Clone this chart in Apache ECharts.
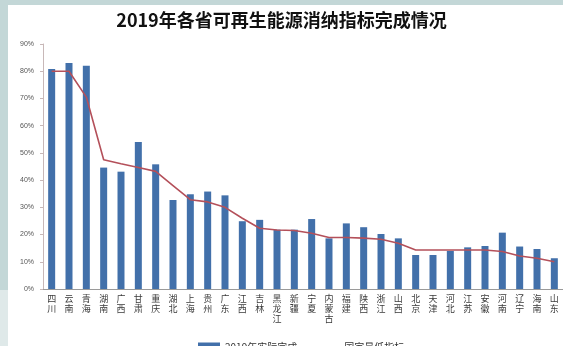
<!DOCTYPE html>
<html>
<head>
<meta charset="utf-8">
<script src="https://cdn.jsdelivr.net/npm/echarts@6/dist/echarts.min.js"></script>
<style>
  html, body { margin: 0; padding: 0; }
  body { width: 563px; height: 346px; background: #c3d7d7; position: relative; overflow: hidden; }
  #strip { position: absolute; left: 0; top: 290px; width: 8px; height: 56px; background: #dfe9e9; }
  #panel { position: absolute; left: 8px; top: 5px; width: 555px; height: 341px; background: #ffffff; }
  #chart { position: absolute; left: 0; top: 0; width: 563px; height: 346px; }
</style>
</head>
<body>
<div id="strip"></div>
<div id="panel"></div>
<div id="chart"></div>
<script>
// Provinces, ordered by the national minimum requirement
const provinces = ['四川', '云南', '青海', '湖南', '广西', '甘肃', '重庆', '湖北', '上海', '贵州',
  '广东', '江西', '吉林', '黑龙江', '新疆', '宁夏', '内蒙古', '福建', '陕西', '浙江',
  '山西', '北京', '天津', '河北', '江苏', '安徽', '河南', '辽宁', '海南', '山东'];

// 2019 actual renewable consumption share (%)
const actual2019 = [80.8, 83.0, 82.0, 44.6, 43.1, 54.0, 45.8, 32.7, 34.8, 35.8,
  34.4, 24.9, 25.4, 21.8, 21.8, 25.7, 18.6, 24.1, 22.7, 20.2,
  18.6, 12.5, 12.5, 14.0, 15.3, 15.8, 20.7, 15.6, 14.7, 11.3];

// National target (%)
const nationalTarget = [80.0, 80.0, 70.5, 47.5, 46.0, 44.6, 43.2, 38.0, 32.8, 32.0,
  30.0, 26.0, 22.3, 21.7, 21.5, 20.5, 18.9, 18.9, 18.7, 18.3,
  16.8, 14.3, 14.3, 14.3, 14.3, 14.3, 13.8, 12.1, 11.3, 10.0];

// Y axis ticks
const yMin = 0, yMax = 90, yStep = 10;

const chart = echarts.init(document.getElementById('chart'), null, { renderer: 'canvas' });

chart.setOption({
  backgroundColor: 'transparent',
  animation: false,
  title: {
    text: '2019年各省可再生能源消纳指标完成情况',
    left: 'center',
    top: 6,
    textStyle: {
      fontFamily: '"Noto Sans CJK SC", sans-serif',
      fontSize: 18,
      fontWeight: 'bold',
      color: '#111111'
    }
  },
  legend: {
    top: 337,
    left: 193,
    itemGap: 20,
    itemWidth: 22,
    itemHeight: 9,
    textStyle: { fontFamily: '"Noto Sans CJK SC", sans-serif', fontSize: 10, color: '#333' },
    data: [
      { name: '2019年实际完成', icon: 'rect' },
      { name: '国家最低指标', icon: 'path://M0,0 L22,0 L22,1.6 L0,1.6 Z' }
    ]
  },
  grid: { left: 43, right: -3, top: 44, bottom: 57, containLabel: false },
  xAxis: {
    type: 'category',
    data: provinces,
    axisLine: { lineStyle: { color: '#9a9a9a', width: 1 } },
    axisTick: { show: false },
    axisLabel: {
      interval: 0,
      margin: 5,
      fontFamily: '"Noto Sans CJK SC", sans-serif',
      fontSize: 9,
      lineHeight: 10,
      color: '#3a3a3a',
      formatter: v => v.split('').join('\n')
    }
  },
  yAxis: {
    type: 'value',
    min: yMin,
    max: yMax,
    interval: yStep,
    axisLine: { show: true, lineStyle: { color: '#c8b8b8', width: 1 } },
    axisTick: { show: true, length: 3, lineStyle: { color: '#c8b8b8' } },
    splitLine: { show: false },
    axisLabel: {
      margin: 9,
      fontFamily: '"Liberation Sans", sans-serif',
      fontSize: 7,
      color: '#555',
      formatter: '{value}%'
    }
  },
  series: [
    {
      name: '2019年实际完成',
      type: 'bar',
      data: actual2019,
      barWidth: 7,
      itemStyle: { color: '#4270aa' }
    },
    {
      name: '国家最低指标',
      type: 'line',
      data: nationalTarget,
      symbol: 'none',
      lineStyle: { color: '#b4505a', width: 1.6 },
      itemStyle: { color: '#b4505a' },
      z: 3
    }
  ]
});
</script>
</body>
</html>
